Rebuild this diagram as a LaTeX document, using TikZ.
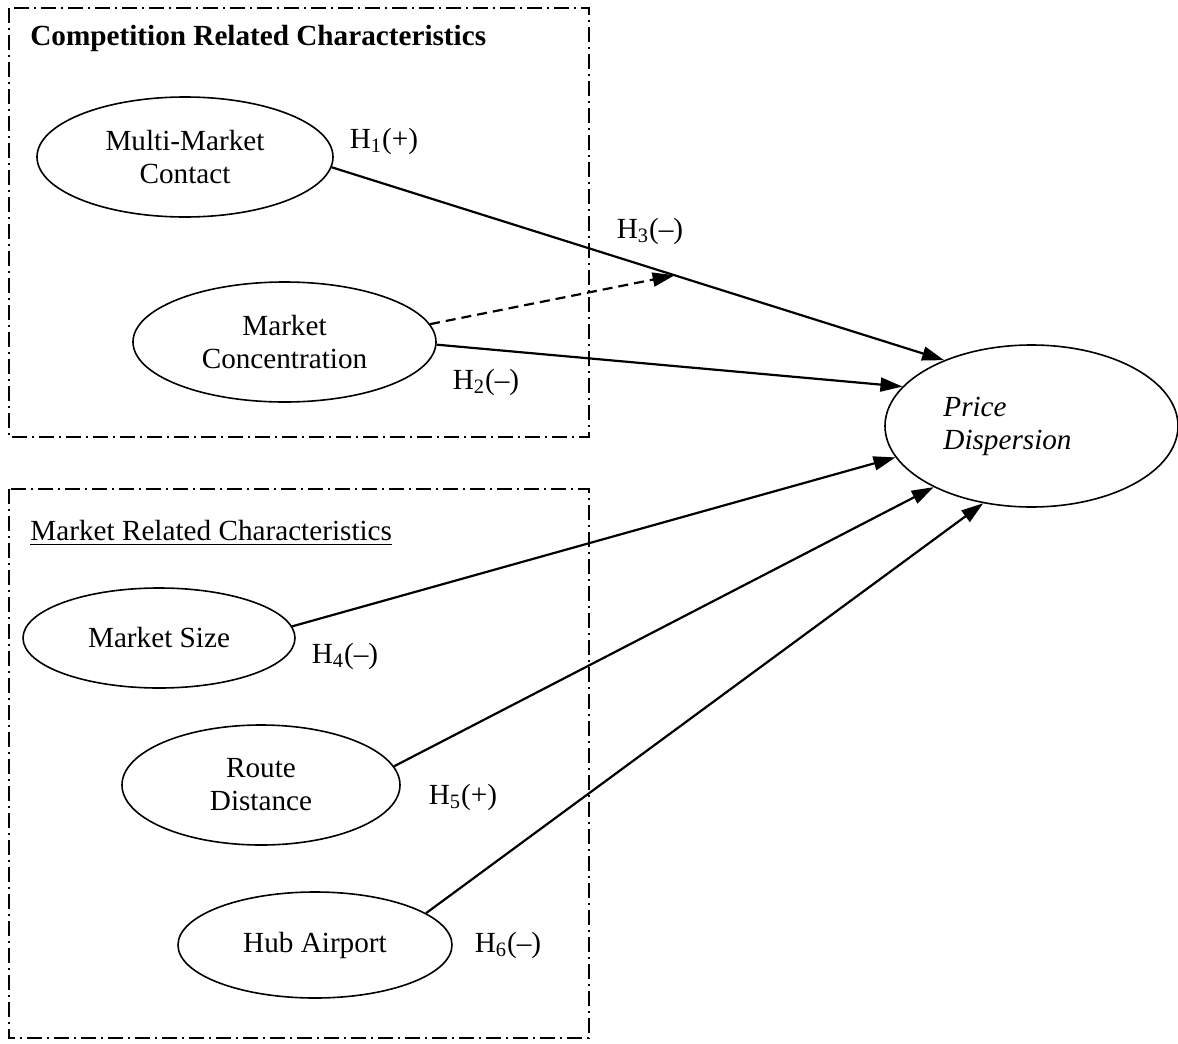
\documentclass[tikz,border=0pt]{standalone}
\usepackage{fontspec}
\setmainfont{Liberation Serif}
\usetikzlibrary{shapes.geometric,arrows.meta}

\begin{document}
\begin{tikzpicture}[
  x=0.5pt, y=-0.5pt,
  font=\fontsize{14.6}{16.5}\selectfont,
  var/.style={draw, ellipse, line width=0.8pt, inner sep=0pt, align=center},
  grp/.style={line width=0.8pt, dash pattern=on 7.5pt off 2.5pt on 1pt off 2.5pt},
  arr/.style={-{Triangle[length=11pt,width=7pt]}, line width=1.1pt},
  hyp/.style={inner sep=0pt}
]
\useasboundingbox (0,0) rectangle (1178,1044);

% groups of characteristics
\draw[grp] (9,8) rectangle (589,437);
\draw[grp] (9,489) rectangle (589,1038);
\node[anchor=west, inner sep=0pt, font=\fontsize{14.6}{16.5}\selectfont\bfseries] (comptitle) at (30,38) {Competition Related Characteristics};
\node[anchor=west, inner sep=0pt] (markettitle) at (30,533) {\underline{Market Related Characteristics}};

% constructs
\node[var, minimum width=148pt, minimum height=60pt] (mmc) at (185,157) {Multi-Market\\Contact};
\node[var, minimum width=151.5pt, minimum height=60pt] (mc) at (284.5,342) {Market\\Concentration};
\node[var, minimum width=136pt, minimum height=50pt] (ms) at (159,638) {Market Size};
\node[var, minimum width=139pt, minimum height=60pt] (rd) at (261,785) {Route\\Distance};
\node[var, minimum width=137pt, minimum height=53pt] (ha) at (315,945) {Hub Airport};
\node[var, minimum width=146.5pt, minimum height=81pt,
      label={[xshift=-12pt, align=left, font=\fontsize{14.6}{16.5}\selectfont\itshape]center:Price\\Dispersion}] (pd) at (1031.5,426) {};

% hypotheses
\draw[arr] (mmc.-4) -- (pd.143);
\draw[arr] (mc.-1.5) -- (pd.163);
\draw[arr] (ms.5) -- (pd.-167);
\draw[arr] (rd.8.5) -- (pd.-148.5);
\draw[arr] (ha.16) -- (pd.-122.5);
\path (mmc.-4) -- (pd.143) coordinate[pos=0.56] (h3tip);
\draw[arr, dash pattern=on 5pt off 3pt] (mc.7) -- (h3tip);

\node[hyp] (h1) at (384,141) {H\textsubscript{1}(+)};
\node[hyp] (h2) at (486,382) {H\textsubscript{2}(--)};
\node[hyp] (h3) at (650,231) {H\textsubscript{3}(--)};
\node[hyp] (h4) at (345,656) {H\textsubscript{4}(--)};
\node[hyp] (h5) at (463,797) {H\textsubscript{5}(+)};
\node[hyp] (h6) at (508,945) {H\textsubscript{6}(--)};
\end{tikzpicture}
\end{document}
